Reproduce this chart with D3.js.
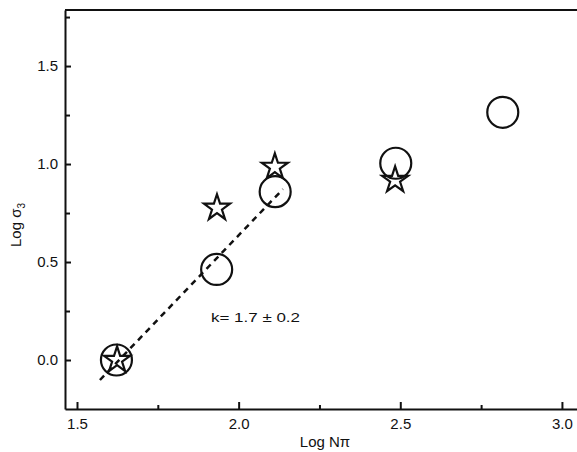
<!DOCTYPE html>
<html>
<head>
<meta charset="utf-8">
<script src="https://cdn.jsdelivr.net/npm/d3@7"></script>
<style>
  body { margin: 0; background: #fff; }
  svg { display: block; font-family: "Liberation Sans", Arial, Helvetica, sans-serif; }
  .axis path, .axis line { stroke: #111; }
  .axis text { fill: #111; font-size: 15px; }
</style>
</head>
<body>
<div class="chart"></div>
<script>
// data (log10 values)
const circleX = [1.622, 1.932, 2.113, 2.486, 2.817];
const circleY = [0.0, 0.462, 0.859, 1.004, 1.264];
const starX = [1.624, 1.933, 2.112, 2.484];
const starY = [0.0, 0.776, 0.985, 0.918];
const fitX = [1.571, 2.137];
const fitY = [-0.102, 0.872];
const xMajor = [1.5, 2.0, 2.5, 3.0];
const xMinor = [1.75, 2.25, 2.75];
const yMajor = [0.0, 0.5, 1.0, 1.5];
const yMinor = [0.25, 0.75, 1.25, 1.75];
const fitLabel = "k= 1.7 \u00b1 0.2";

const width = 577, height = 452;
const margin = {top: 10, right: 0, bottom: 43, left: 65};

const svg = d3.select(".chart").append("svg")
    .attr("width", width)
    .attr("height", height);

const x = d3.scaleLinear()
    .domain([1.4629, 3.0466])
    .range([margin.left, width - margin.right]);

const y = d3.scaleLinear()
    .domain([-0.25, 1.786])
    .range([height - margin.bottom, margin.top]);

// minor ticks first, then major axes on top
svg.append("g")
    .attr("class", "axis")
    .attr("transform", `translate(0,${height - margin.bottom})`)
    .call(d3.axisBottom(x).tickValues(xMinor).tickSize(-4).tickFormat(""))
    .call(g => g.select(".domain").remove())
    .selectAll("line").attr("stroke-width", 2);

svg.append("g")
    .attr("class", "axis")
    .attr("transform", `translate(${margin.left},0)`)
    .call(d3.axisLeft(y).tickValues(yMinor).tickSize(-5).tickFormat(""))
    .call(g => g.select(".domain").remove())
    .selectAll("line").attr("stroke-width", 2);

const xAxis = svg.append("g")
    .attr("class", "axis")
    .attr("transform", `translate(0,${height - margin.bottom})`)
    .call(d3.axisBottom(x).tickValues(xMajor).tickSize(-7).tickSizeOuter(0)
        .tickPadding(9).tickFormat(d3.format(".1f")));
xAxis.select(".domain").attr("stroke-width", 2);
xAxis.selectAll(".tick line").attr("stroke-width", 2);

const yAxis = svg.append("g")
    .attr("class", "axis")
    .attr("transform", `translate(${margin.left},0)`)
    .call(d3.axisLeft(y).tickValues(yMajor).tickSize(-6).tickSizeOuter(0)
        .tickPadding(7).tickFormat(d3.format(".1f")));
yAxis.select(".domain").attr("stroke-width", 2);
yAxis.selectAll(".tick line").attr("stroke-width", 2);

// top frame line
svg.append("line")
    .attr("x1", x.range()[0]).attr("x2", x.range()[1])
    .attr("y1", y.range()[1]).attr("y2", y.range()[1])
    .attr("stroke", "#111").attr("stroke-width", 2);

// fitted line
svg.append("line")
    .attr("x1", x(fitX[0])).attr("y1", y(fitY[0]))
    .attr("x2", x(fitX[1])).attr("y2", y(fitY[1]))
    .attr("stroke", "#111")
    .attr("stroke-width", 2.5)
    .attr("stroke-dasharray", "6,5");

const circles = circleX.map((v, i) => ({x: v, y: circleY[i]}));
const stars = starX.map((v, i) => ({x: v, y: starY[i]}));

svg.append("g").selectAll("circle")
    .data(circles)
    .join("circle")
    .attr("cx", d => x(d.x))
    .attr("cy", d => y(d.y))
    .attr("r", 15.5)
    .attr("fill", "none")
    .attr("stroke", "#111")
    .attr("stroke-width", 2.2);

const star = d3.symbol().type(d3.symbolStar).size(210);

svg.append("g").selectAll("path")
    .data(stars)
    .join("path")
    .attr("transform", d => `translate(${x(d.x)},${y(d.y)})`)
    .attr("d", star)
    .attr("fill", "none")
    .attr("stroke", "#111")
    .attr("stroke-width", 2.2);

// slope annotation
svg.append("text")
    .attr("x", 211)
    .attr("y", 322)
    .attr("font-size", 13)
    .attr("textLength", 89)
    .attr("lengthAdjust", "spacingAndGlyphs")
    .attr("fill", "#111")
    .text(fitLabel);

// axis titles
svg.append("text")
    .attr("x", (x.range()[0] + x.range()[1]) / 2 + 4)
    .attr("y", 447)
    .attr("text-anchor", "middle")
    .attr("font-size", 15)
    .attr("fill", "#111")
    .text("Log N\u03c0");

const yTitle = svg.append("text")
    .attr("transform", "translate(21,225) rotate(-90)")
    .attr("text-anchor", "middle")
    .attr("font-size", 15)
    .attr("fill", "#111");
yTitle.append("tspan").text("Log \u03c3");
yTitle.append("tspan").attr("font-size", 10).attr("dy", 4).text("3");
</script>
</body>
</html>
